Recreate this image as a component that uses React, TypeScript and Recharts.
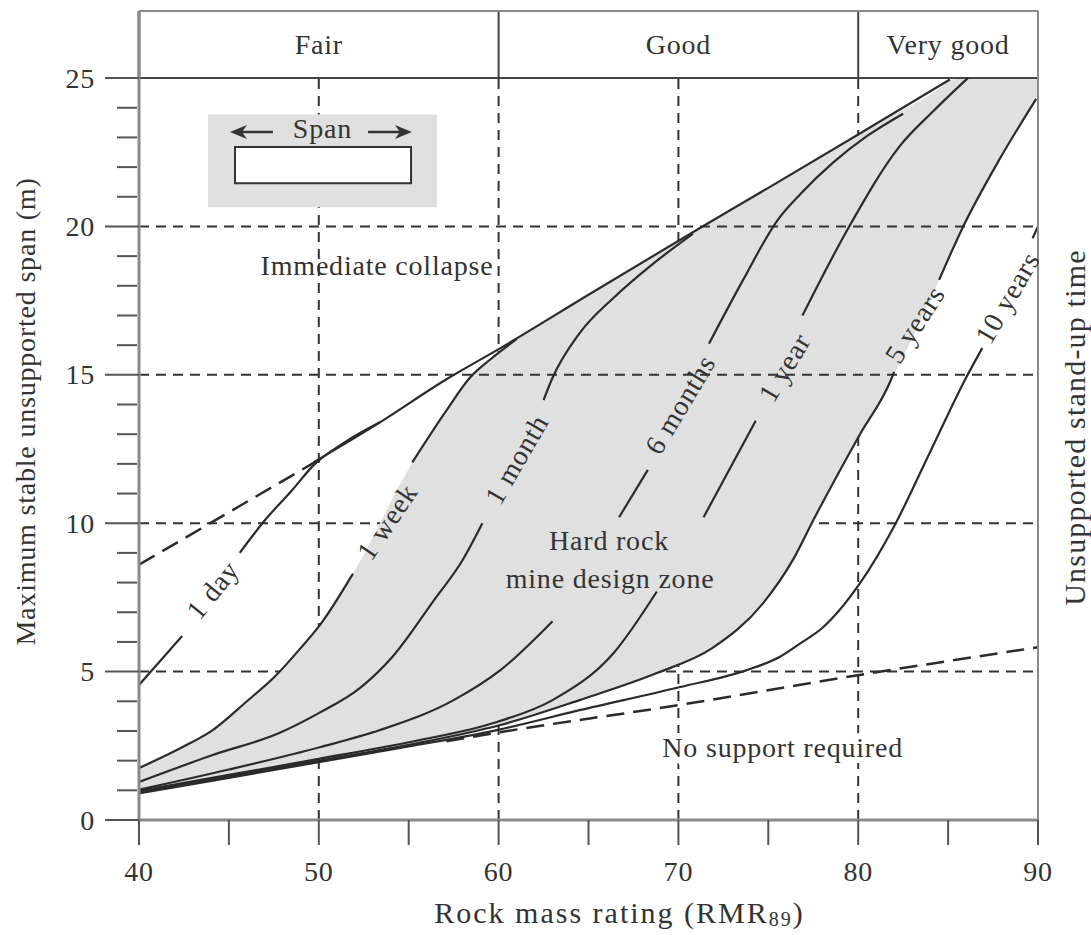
import React from "react";
import {
  ComposedChart,
  Area,
  Line,
  XAxis,
  YAxis,
  CartesianGrid,
  ReferenceLine,
  ReferenceArea,
  ReferenceDot,
  Label,
} from "recharts";

const FONT = '"Liberation Serif", "Times New Roman", serif';
const INK = "#333";
const AXIS = "#8a8a8a";
const ZONE = "#e0e0e0";
const FS = 28;

// axes
const X_TICKS = [40, 45, 50, 55, 60, 65, 70, 75, 80, 85, 90];
const Y_TICKS = [0, 1, 2, 3, 4, 5, 6, 7, 8, 9, 10, 11, 12, 13, 14, 15, 16, 17, 18, 19, 20, 21, 22, 23, 24, 25];
const GRID_X = [50, 60, 70, 80];
const GRID_Y_UNDER = [5, 10];
const GRID_Y_OVER = [15, 20];
const Y_TOP = 27.26; // top of the header band above span = 25

// rock mass classes shown in the header band
const RATING_CLASSES = ["Fair", "Good", "Very good"];
const RATING_LIMITS = [40, 60, 80, 90];

// stand-up time curves, split where the printed label interrupts them
const ONE_DAY = [
  [[40, 4.55], [42.4, 6.2]],
  [[45.6, 9.0], [47, 10.1], [48.5, 11.1], [49.7, 11.95], [51.5, 12.75], [53.4, 13.4]],
];
const ONE_WEEK = [
  [[40, 1.75], [42.4, 2.45], [44.1, 3.03], [46, 4.0], [47.5, 4.8], [49, 5.8], [50.1, 6.6], [51.9, 8.3]],
  [[55.2, 12.05], [57.1, 13.8], [58.4, 14.9], [59.5, 15.5], [61, 16.2]],
];
const ONE_MONTH = [
  [[40, 1.28], [44.1, 2.19], [47.8, 2.93], [50, 3.6], [52.3, 4.45], [54.1, 5.5], [56.4, 7.4], [58.0, 8.76], [59.1, 10.0]],
  [[62.5, 14.15], [63.0, 14.9], [64.5, 16.4], [66.4, 17.6], [68.5, 18.7], [70.8, 19.75]],
];
const SIX_MONTHS = [
  [[40, 1.02], [45, 1.7], [50.1, 2.46], [53.4, 3.03], [57.5, 4.04], [60.1, 5.05], [63.0, 6.7]],
  [[66.7, 10.2], [68.3, 11.8]],
  [[71.7, 16.05], [73.6, 18.2], [75.5, 20.2], [76.8, 21.1], [78.6, 22.15], [80.5, 23.05], [82.5, 23.8]],
];
const ONE_YEAR = [
  [[40, 0.98], [45, 1.52], [50, 2.06], [55, 2.62], [59.9, 3.3], [63.0, 4.04], [66.4, 5.63], [68.8, 7.7]],
  [[71.4, 10.2], [74.3, 13.45]],
  [[76.9, 17.0], [79.5, 20.0], [82.3, 22.7], [84.2, 23.9], [86.1, 25.0]],
];
const FIVE_YEARS = [
  [[40, 0.94], [45, 1.47], [50, 2.0], [55, 2.53], [60.1, 3.2], [64.5, 4.04], [68.8, 4.95], [71.9, 5.8], [74.7, 7.3], [76.4, 8.8], [77.5, 10.1], [80.1, 13.0], [81.8, 14.8], [82.0, 15.1]],
  [[84.5, 18.2], [85.8, 19.95], [87.8, 22.2], [89.9, 24.3]],
];
const TEN_YEARS = [
  [[40, 0.9], [45, 1.42], [50, 1.95], [55, 2.48], [59.9, 3.03], [64.5, 3.7], [70.1, 4.48], [73.8, 5.05], [75.65, 5.5], [76.8, 5.96], [78.0, 6.47], [80.1, 7.98], [82.0, 9.9], [84.0, 12.4], [86.0, 14.9], [86.9, 15.9]],
  [[89.7, 19.6], [90, 20.0]],
];

// collapse boundary (solid) and its dashed extension, no-support boundary
const COLLAPSE = [[49.7, 12.05], [53.4, 13.4], [57.1, 14.85], [60.1, 15.9], [65, 17.7], [71.2, 19.95], [75, 21.3], [80, 23.1], [85.1, 24.95]];
const COLLAPSE_EXT = [[40, 8.6], [49.9, 12.1]];
const NO_SUPPORT = [[57.1, 2.65], [60, 2.95], [70, 3.87], [80, 4.88], [90, 5.82]];

// hard rock mine design zone
const ZONE_X = [40, 42.4, 44.1, 46, 47.5, 49, 50.1, 51.9, 55.2, 57.1, 58.4, 59.5, 61, 63, 65, 68, 71, 74, 76.4, 77.5, 80.1, 81.8, 84.5, 85.1, 86, 88, 90];
const ZONE_LOW = [0.94, 1.18, 1.38, 1.58, 1.74, 1.9, 2.0, 2.18, 2.55, 2.78, 2.95, 3.1, 3.35, 3.75, 4.15, 4.75, 5.5, 6.9, 8.8, 10.1, 13.0, 14.8, 18.2, 19.0, 20.2, 22.4, 24.4];
const ZONE_HIGH = [1.75, 2.45, 3.03, 4.0, 4.8, 5.8, 6.6, 8.3, 12.05, 13.8, 14.9, 15.5, 16.2, 16.95, 17.7, 18.75, 19.85, 20.9, 21.8, 22.2, 23.1, 23.7, 24.65, 24.93, 25, 25, 25];

const SOLID_CURVES = [ONE_DAY, ONE_WEEK, ONE_MONTH, SIX_MONTHS, ONE_YEAR, FIVE_YEARS, TEN_YEARS, [COLLAPSE]];
const DASHED_CURVES = [COLLAPSE_EXT, NO_SUPPORT];

const CURVE_LABELS = [
  { text: "1 day", x: 44.1, y: 7.75, angle: -51 },
  { text: "1 week", x: 53.8, y: 10.05, angle: -56 },
  { text: "1 month", x: 61.0, y: 12.15, angle: -60 },
  { text: "6 months", x: 70.1, y: 14.0, angle: -59 },
  { text: "1 year", x: 75.9, y: 15.25, angle: -59 },
  { text: "5 years", x: 83.15, y: 16.7, angle: -57 },
  { text: "10 years", x: 88.3, y: 17.6, angle: -60 },
];

const NOTES = [
  { text: "Immediate collapse", x: 53.24, y: 18.7, halo: false },
  { text: "Hard rock", x: 66.14, y: 9.43, halo: false },
  { text: "mine design zone", x: 66.2, y: 8.15, halo: false },
  { text: "No support required", x: 75.8, y: 2.43, halo: true },
  { text: "Span", x: 50.2, y: 23.3, halo: false },
];

const pts = (seg: number[][]) => seg.map(([x, y]) => ({ x, y }));
const zoneData = ZONE_X.map((x, i) => ({ x, band: [ZONE_LOW[i], ZONE_HIGH[i]] }));

const textStyle = { fontFamily: FONT, fontSize: FS, fill: INK, letterSpacing: 0.8 };
const titleStyle = { fontFamily: FONT, fontSize: 30, fill: INK, letterSpacing: 1.2 };

function XTick(props: any) {
  const { x, y, payload } = props;
  const v = payload.value;
  return (
    <g>
      <line x1={x} x2={x} y1={y} y2={y + 25} stroke="#555" strokeWidth={2} />
      {v % 10 === 0 && (
        <text x={x} y={y + 51} textAnchor="middle" dominantBaseline="central" {...textStyle}>
          {v}
        </text>
      )}
    </g>
  );
}

function YTick(props: any) {
  const { x, y, payload } = props;
  const v = payload.value;
  const major = v % 5 === 0;
  return (
    <g>
      <line x1={major ? x - 34 : x - 22} x2={major ? x : x - 2} y1={y} y2={y} stroke="#555" strokeWidth={2} />
      {major && (
        <text x={x - 44} y={y} textAnchor="end" dominantBaseline="central" {...textStyle}>
          {v}
        </text>
      )}
    </g>
  );
}

function Arrow(p: any) {
  const { x1, y1, x2, y2 } = p;
  const d = Math.sign(x2 - x1);
  return (
    <g>
      <line x1={x1} y1={y1} x2={x2 - d * 10} y2={y2} stroke={INK} strokeWidth={2.5} />
      <path d={`M${x2},${y2} L${x2 - d * 17},${y2 - 7} L${x2 - d * 12},${y2} L${x2 - d * 17},${y2 + 7} Z`} fill={INK} />
    </g>
  );
}

// titles are centred a little off the plot centre, as in the source figure
const leftTitle = (props: any) => {
  const { x, y, height } = props.viewBox;
  const cx = x + 25;
  const cy = y + height / 2 - 4;
  return (
    <text x={cx} y={cy} transform={`rotate(-90 ${cx} ${cy})`} textAnchor="middle" dominantBaseline="central" {...textStyle}>
      Maximum stable unsupported span (m)
    </text>
  );
};

const rightTitle = (props: any) => {
  const { x, y, height } = props.viewBox;
  const cx = x + 36;
  const cy = y + height / 2 + 12;
  return (
    <text x={cx} y={cy} transform={`rotate(-90 ${cx} ${cy})`} textAnchor="middle" dominantBaseline="central" {...titleStyle}>
      Unsupported stand-up time
    </text>
  );
};

const bottomTitle = (props: any) => {
  const { x, y, width } = props.viewBox;
  const cx = x + width / 2 + 31;
  const cy = y + 92;
  return (
    <text x={cx} y={cy} textAnchor="middle" dominantBaseline="central" {...titleStyle} letterSpacing={2}>
      <tspan>Rock mass rating (RMR</tspan>
      <tspan fontSize={20} dy={7}>89</tspan>
      <tspan dy={-7}>)</tspan>
    </text>
  );
};

export default function App() {
  return (
    <div style={{ position: "absolute", left: 0, top: 0, width: 1091, height: 935, background: "#fff" }}>
      <ComposedChart width={1091} height={935} margin={{ top: 11, right: 0, bottom: 0, left: 0 }}>
        <CartesianGrid
          horizontalValues={GRID_Y_UNDER}
          verticalValues={GRID_X}
          stroke={INK}
          strokeWidth={2}
          strokeDasharray="10 7"
        />
        <XAxis
          type="number"
          dataKey="x"
          domain={[40, 90]}
          ticks={X_TICKS}
          interval={0}
          allowDataOverflow
          height={115}
          tickSize={0}
          tickMargin={0}
          tickLine={false}
          tick={<XTick />}
          axisLine={{ stroke: AXIS, strokeWidth: 3 }}
        >
          <Label content={bottomTitle} />
        </XAxis>
        <YAxis
          type="number"
          domain={[0, Y_TOP]}
          ticks={Y_TICKS}
          interval={0}
          allowDataOverflow
          width={139}
          tickSize={0}
          tickMargin={0}
          tickLine={false}
          tick={<YTick />}
          axisLine={{ stroke: AXIS, strokeWidth: 3 }}
        >
          <Label content={leftTitle} />
        </YAxis>
        <YAxis
          yAxisId="right"
          orientation="right"
          type="number"
          domain={[0, Y_TOP]}
          width={53}
          tick={false}
          tickLine={false}
          axisLine={{ stroke: AXIS, strokeWidth: 2 }}
        >
          <Label content={rightTitle} />
        </YAxis>

        {/* header band: hide the grid there, then draw the class boxes */}
        <ReferenceArea x1={40} x2={90} y1={25} y2={Y_TOP} fill="#fff" fillOpacity={1} stroke="none" />
        {RATING_CLASSES.map((name, i) => (
          <ReferenceArea
            key={name}
            x1={RATING_LIMITS[i]}
            x2={RATING_LIMITS[i + 1]}
            y1={25}
            y2={Y_TOP}
            fill="none"
            fillOpacity={0}
            stroke="none"
          >
            <Label value={name} position="center" style={textStyle} />
          </ReferenceArea>
        ))}
        {RATING_LIMITS.slice(1, 3).map((x) => (
          <ReferenceLine key={x} segment={[{ x, y: 25 }, { x, y: Y_TOP }]} stroke="#444" strokeWidth={2} />
        ))}
        <ReferenceLine segment={[{ x: 40, y: 25 }, { x: 40, y: Y_TOP }]} stroke={AXIS} strokeWidth={3} />
        <ReferenceLine segment={[{ x: 90, y: 25 }, { x: 90, y: Y_TOP }]} stroke={AXIS} strokeWidth={2} />
        <ReferenceLine y={Y_TOP} stroke={AXIS} strokeWidth={2} />

        {/* span sketch */}
        <ReferenceArea x1={43.84} x2={56.57} y1={20.65} y2={23.77} fill={ZONE} fillOpacity={1} stroke="none" />
        <ReferenceArea x1={45.34} x2={55.13} y1={21.46} y2={22.68} fill="#fff" fillOpacity={1} stroke={INK} strokeWidth={2} />
        <ReferenceLine segment={[{ x: 47.45, y: 23.18 }, { x: 45.06, y: 23.18 }]} shape={Arrow} />
        <ReferenceLine segment={[{ x: 52.74, y: 23.18 }, { x: 55.18, y: 23.18 }]} shape={Arrow} />

        <Area
          data={zoneData}
          dataKey="band"
          type="monotone"
          fill={ZONE}
          fillOpacity={1}
          stroke="none"
          isAnimationActive={false}
          dot={false}
          activeDot={false}
        />

        {GRID_Y_OVER.map((y) => (
          <ReferenceLine key={y} y={y} stroke={INK} strokeWidth={2} strokeDasharray="10 7" />
        ))}
        <ReferenceLine y={25} stroke="#444" strokeWidth={2} />

        {SOLID_CURVES.flatMap((curve, ci) =>
          curve.map((seg, si) => (
            <Line
              key={`s-${ci}-${si}`}
              data={pts(seg)}
              dataKey="y"
              type="monotone"
              stroke="#2b2b2b"
              strokeWidth={2.2}
              dot={false}
              activeDot={false}
              isAnimationActive={false}
            />
          ))
        )}
        {DASHED_CURVES.map((seg, i) => (
          <Line
            key={`d-${i}`}
            data={pts(seg)}
            dataKey="y"
            type="monotone"
            stroke="#2b2b2b"
            strokeWidth={2.5}
            strokeDasharray="18 9"
            dot={false}
            activeDot={false}
            isAnimationActive={false}
          />
        ))}

        {CURVE_LABELS.map((l) => (
          <ReferenceDot
            key={l.text}
            x={l.x}
            y={l.y}
            r={0}
            ifOverflow="visible"
            shape={(p: any) => (
              <text
                x={p.cx}
                y={p.cy}
                transform={`rotate(${l.angle} ${p.cx} ${p.cy})`}
                textAnchor="middle"
                dominantBaseline="central"
                {...textStyle}
              >
                {l.text}
              </text>
            )}
          />
        ))}
        {NOTES.map((n) => (
          <ReferenceDot
            key={n.text}
            x={n.x}
            y={n.y}
            r={0}
            ifOverflow="visible"
            shape={(p: any) => (
              <text
                x={p.cx}
                y={p.cy}
                textAnchor="middle"
                dominantBaseline="central"
                stroke={n.halo ? "#fff" : "none"}
                strokeWidth={n.halo ? 12 : 0}
                paintOrder="stroke"
                {...textStyle}
              >
                {n.text}
              </text>
            )}
          />
        ))}
      </ComposedChart>
    </div>
  );
}
